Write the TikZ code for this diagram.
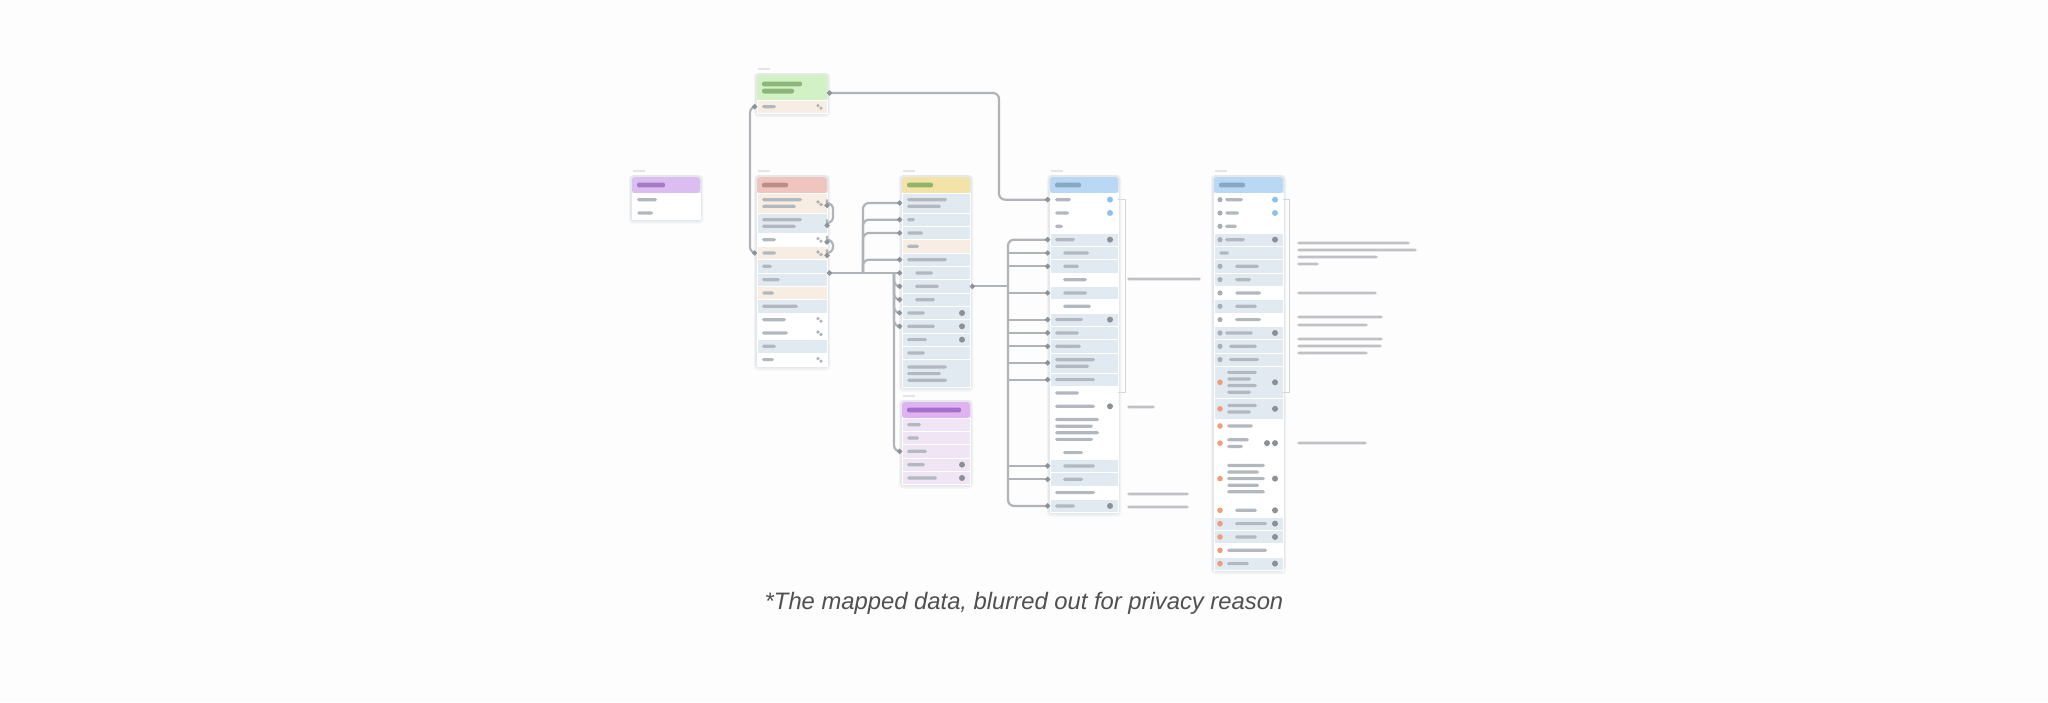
\documentclass[tikz,border=0pt]{standalone}
\usepackage{fontspec}
\newfontfamily\capfont{Liberation Sans}
\usetikzlibrary{calc,arrows.meta}
\pgfdeclarelayer{bgl}\pgfdeclarelayer{background}
\pgfsetlayers{bgl,background,main}
\definecolor{bgc}{HTML}{FDFDFD}
\definecolor{rb}{HTML}{E2EAF1}
\definecolor{rw}{HTML}{FFFFFF}
\definecolor{rp}{HTML}{F8EDE3}
\definecolor{rv}{HTML}{EFE5F4}
\definecolor{tb}{HTML}{B3B8BF}
\definecolor{cn}{HTML}{B0B4B9}
\definecolor{mk}{HTML}{8E9399}
\definecolor{bk}{HTML}{D3D7DB}
\definecolor{frm}{HTML}{E6E9EC}
\definecolor{shd}{HTML}{F2F3F4}
\definecolor{ic}{HTML}{8C9096}
\definecolor{bd}{HTML}{8EC2EE}
\definecolor{lk}{HTML}{AEB2B8}
\definecolor{li}{HTML}{A9AEB4}
\definecolor{orn}{HTML}{F29C7E}
\definecolor{an}{HTML}{BFC1C4}
\definecolor{lbl}{HTML}{E4E4E4}
\definecolor{capc}{HTML}{505050}
\definecolor{hpa}{HTML}{DBBDF1}\definecolor{tpa}{HTML}{A37CC4}
\definecolor{hg}{HTML}{D2F1C4}\definecolor{tg}{HTML}{8DB77A}
\definecolor{hr}{HTML}{F1C5BF}\definecolor{tr}{HTML}{B98F8A}
\definecolor{hy}{HTML}{F4E3A8}\definecolor{ty}{HTML}{8FB46A}
\definecolor{hq}{HTML}{DFB2F2}\definecolor{tq}{HTML}{A56FC9}
\definecolor{hb}{HTML}{B9D8F3}\definecolor{tbh}{HTML}{8AA7C2}
\tikzset{
  rowbox/.style={draw=white, line width=0.4pt, inner sep=0pt, outer sep=0pt, rectangle},
  hdrbox/.style={inner sep=0pt, outer sep=0pt, rectangle, rounded corners=1.5pt},
  conn/.style={draw=cn, line width=1.1pt, rounded corners=3pt},
  brk/.style={draw=bk, line width=0.5pt},
  mkA/.style={{Circle[length=2.4pt,color=mk]}-},
  mkB/.style={-{Circle[length=2.4pt,color=mk]}},
  mkAB/.style={{Circle[length=2.4pt,color=mk]}-{Circle[length=2.4pt,color=mk]}},
}
\newcount\rowcnt
\newcommand\tabhead[9]{%
  \xdef\Tname{#1}\xdef\Tx{#2}\xdef\Ttop{#3}\xdef\Tw{#4}%
  \global\rowcnt=0
  \node[hdrbox, fill=#6, minimum width=#4*0.5pt, minimum height=#5*0.5pt, anchor=north west] (#1-h) at (#2,#3) {};
  \fill[lbl] (#2+1,#3-7) rectangle ++(12,2.4);
  \foreach \k in {1,...,#9}{%
    \pgfmathsetmacro\yy{#3+#5/2-(#9-1)*3.6+(\k-1)*7.2}%
    \pgfmathsetmacro\ll{#8-(\k-1)*8}%
    \fill[#7, rounded corners=1pt] (#2+5,\yy-2.4) rectangle ++(\ll,4.8);
  }%
  \pgfmathsetmacro\ny{#3+#5}\xdef\Cury{\ny}%
}
\newcommand\trow[7]{%
  \global\advance\rowcnt by 1
  \edef\rn{\Tname-\the\rowcnt}%
  \node[rowbox, fill=#2, minimum width=\Tw*0.5pt, minimum height=#1*0.5pt, anchor=north west] (\rn) at (\Tx,\Cury) {};
  \pgfmathsetmacro\cy{\Cury+#1/2}%
  \foreach \k in {1,...,#5}{%
    \pgfmathsetmacro\yy{\cy-(#5-1)*3.3+(\k-1)*6.6}%
    \pgfmathsetmacro\ll{#4-mod(\k+1,2)*6}%
    \fill[tb, rounded corners=0.8pt] (\Tx+5+#3,\yy-1.6) rectangle ++(\ll,3.2);
  }%
  \ifcase#6\relax\or
    \fill[ic] (\Tx+\Tw-8,\cy) circle (1.5pt);
  \or
    \fill[bd] (\Tx+\Tw-8,\cy) circle (1.5pt);
  \or
    \fill[lk] (\Tx+\Tw-9,\cy-1) circle (0.9pt); \fill[lk] (\Tx+\Tw-6,\cy+1.5) circle (0.9pt);
  \or
    \fill[ic] (\Tx+\Tw-8,\cy) circle (1.5pt); \fill[ic] (\Tx+\Tw-16,\cy) circle (1.5pt);
  \fi
  \ifcase#7\relax\or
    \fill[li] (\Tx+6,\cy) circle (1.3pt);
  \or
    \fill[orn] (\Tx+6,\cy) circle (1.4pt);
  \fi
  \pgfmathsetmacro\ny{\Cury+#1}\xdef\Cury{\ny}%
}
\newcommand\tabend{%
  \begin{pgfonlayer}{background}
    \fill[shd, rounded corners=2pt] (\Tx-3,\Ttop-2) rectangle (\Tx+\Tw+3,\Cury+4);
    \fill[frm, rounded corners=2pt] (\Tx-2,\Ttop-2) rectangle (\Tx+\Tw+2,\Cury+2);
  \end{pgfonlayer}}
\newcommand\ann[3]{\fill[an, rounded corners=0.8pt] (#1,#2-1.3) rectangle ++(#3,2.6);}
\begin{document}
\begin{tikzpicture}[x=0.5pt,y=-0.5pt]
\begin{pgfonlayer}{bgl}\fill[bgc] (0,0) rectangle (2048,702);\end{pgfonlayer}
\useasboundingbox (0,0) rectangle (2048,702);
\def\s{13.33}
% purple table
\tabhead{pa}{632}{177}{68}{16}{hpa}{tpa}{28}{1}
\trow{\s}{rw}{0}{20}{1}{0}{0}
\trow{\s}{rw}{0}{16}{1}{0}{0}
\tabend
% green table
\tabhead{g}{757}{75}{70}{25}{hg}{tg}{40}{2}
\trow{\s}{rp}{0}{14}{1}{3}{0}
\tabend
% red table
\tabhead{r}{757}{177}{70}{16}{hr}{tr}{26}{1}
\trow{20}{rp}{0}{40}{2}{3}{0}
\trow{20}{rb}{0}{40}{2}{0}{0}
\trow{\s}{rw}{0}{14}{1}{3}{0}
\trow{\s}{rp}{0}{14}{1}{3}{0}
\trow{\s}{rb}{0}{10}{1}{0}{0}
\trow{\s}{rb}{0}{18}{1}{0}{0}
\trow{\s}{rp}{0}{12}{1}{0}{0}
\trow{\s}{rb}{0}{36}{1}{0}{0}
\trow{\s}{rw}{0}{24}{1}{3}{0}
\trow{\s}{rw}{0}{26}{1}{3}{0}
\trow{\s}{rb}{0}{14}{1}{0}{0}
\trow{\s}{rw}{0}{12}{1}{3}{0}
\tabend
% yellow table
\tabhead{y}{902}{177}{68}{16}{hy}{ty}{26}{1}
\trow{20}{rb}{0}{40}{2}{0}{0}
\trow{\s}{rb}{0}{8}{1}{0}{0}
\trow{\s}{rb}{0}{16}{1}{0}{0}
\trow{\s}{rp}{0}{12}{1}{0}{0}
\trow{\s}{rb}{0}{40}{1}{0}{0}
\trow{\s}{rb}{8}{18}{1}{0}{0}
\trow{\s}{rb}{8}{24}{1}{0}{0}
\trow{\s}{rb}{8}{20}{1}{0}{0}
\trow{\s}{rb}{0}{18}{1}{1}{0}
\trow{\s}{rb}{0}{28}{1}{1}{0}
\trow{\s}{rb}{0}{20}{1}{1}{0}
\trow{\s}{rb}{0}{18}{1}{0}{0}
\trow{28}{rb}{0}{40}{3}{0}{0}
\tabend
% purple table 2
\tabhead{q}{902}{402}{68}{16}{hq}{tq}{54}{1}
\trow{\s}{rv}{0}{14}{1}{0}{0}
\trow{\s}{rv}{0}{12}{1}{0}{0}
\trow{\s}{rv}{0}{20}{1}{0}{0}
\trow{\s}{rv}{0}{18}{1}{1}{0}
\trow{\s}{rv}{0}{30}{1}{1}{0}
\tabend
% blue table 1
\tabhead{b1}{1050}{177}{68}{16}{hb}{tbh}{26}{1}
\trow{\s}{rw}{0}{16}{1}{2}{0}
\trow{\s}{rw}{0}{14}{1}{2}{0}
\trow{\s}{rw}{0}{8}{1}{0}{0}
\trow{\s}{rb}{0}{20}{1}{1}{0}
\trow{\s}{rb}{8}{26}{1}{0}{0}
\trow{\s}{rb}{8}{16}{1}{0}{0}
\trow{\s}{rw}{8}{24}{1}{0}{0}
\trow{\s}{rb}{8}{24}{1}{0}{0}
\trow{\s}{rw}{8}{28}{1}{0}{0}
\trow{\s}{rb}{0}{28}{1}{1}{0}
\trow{\s}{rb}{0}{24}{1}{0}{0}
\trow{\s}{rb}{0}{26}{1}{0}{0}
\trow{20}{rb}{0}{40}{2}{0}{0}
\trow{\s}{rb}{0}{40}{1}{0}{0}
\trow{\s}{rw}{0}{24}{1}{0}{0}
\trow{\s}{rw}{0}{40}{1}{1}{0}
\trow{33}{rw}{0}{44}{4}{0}{0}
\trow{\s}{rw}{8}{20}{1}{0}{0}
\trow{\s}{rb}{8}{32}{1}{0}{0}
\trow{\s}{rb}{8}{20}{1}{0}{0}
\trow{\s}{rw}{0}{40}{1}{0}{0}
\trow{\s}{rb}{0}{20}{1}{1}{0}
\tabend
% blue table 2
\tabhead{b2}{1214}{177}{69}{16}{hb}{tbh}{26}{1}
\trow{\s}{rw}{6}{18}{1}{2}{1}
\trow{\s}{rw}{6}{14}{1}{2}{1}
\trow{\s}{rw}{6}{12}{1}{0}{1}
\trow{\s}{rb}{6}{20}{1}{1}{1}
\trow{\s}{rb}{0}{10}{1}{0}{0}
\trow{\s}{rb}{16}{24}{1}{0}{1}
\trow{\s}{rb}{16}{16}{1}{0}{1}
\trow{\s}{rw}{16}{26}{1}{0}{1}
\trow{\s}{rb}{16}{22}{1}{0}{1}
\trow{\s}{rw}{16}{26}{1}{0}{1}
\trow{\s}{rb}{6}{28}{1}{1}{1}
\trow{\s}{rb}{10}{28}{1}{0}{1}
\trow{\s}{rb}{10}{30}{1}{0}{1}
\trow{32}{rb}{8}{30}{4}{1}{2}
\trow{21}{rb}{8}{30}{2}{1}{2}
\trow{\s}{rw}{8}{26}{1}{0}{2}
\trow{21}{rw}{8}{22}{2}{4}{2}
\trow{50}{rw}{8}{38}{5}{1}{2}
\trow{\s}{rw}{16}{22}{1}{1}{2}
\trow{\s}{rb}{16}{32}{1}{1}{2}
\trow{\s}{rb}{16}{22}{1}{1}{2}
\trow{\s}{rw}{8}{40}{1}{0}{2}
\trow{\s}{rb}{8}{22}{1}{1}{2}
\tabend
% brackets
\draw[brk] (b1-1.east) -- ++(7,0) |- (b1-15.east);
\draw[brk] (b2-1.east) -- ++(6,0) |- ($(b2-14.south east)+(0,-6)$);
% annotations
\ann{1127}{279}{74}
\ann{1127}{407}{28}
\ann{1127}{494}{62}
\ann{1127}{507}{62}
\ann{1297}{243}{113}
\ann{1297}{250}{120}
\ann{1297}{257}{81}
\ann{1297}{264}{22}
\ann{1297}{293}{80}
\ann{1297}{317}{86}
\ann{1297}{325}{71}
\ann{1297}{339}{86}
\ann{1297}{346}{85}
\ann{1297}{353}{71}
\ann{1297}{443}{70}
% connectors
\coordinate (gout) at ($(g-h.south east)+(0,-7)$);
\draw[conn,mkAB] (gout) -| ($(b1-1.west)+(-51,0)$) -- (b1-1.west);
\draw[conn,mkAB] (g-1.west) -- ++(-7,0) |- (r-4.west);
\draw[conn,mkAB] (r-1.east) -- ++(6,0) |- (r-2.east);
\draw[conn,mkAB] (r-3.east) -- ++(6,0) |- (r-4.east);
\coordinate (bus1) at ($(y-6.west)+(-39,0)$);
\draw[conn,mkAB] (y-6.west -| r-5.east) -- (y-6.west);
\foreach \k in {1,2,3,5} \draw[conn,mkA] (y-\k.west) -| (bus1);
\coordinate (bus2) at ($(y-6.west)+(-8,0)$);
\foreach \k in {7,8,9,10} \draw[conn,mkB] (bus2) |- (y-\k.west);
\draw[conn,mkB] (bus2) |- (q-3.west);
\coordinate (bus3) at ($(b1-4.west)+(-42,0)$);
\draw[conn,mkAB] (b1-4.west) -| ($(b1-22.west)+(-42,0)$) -- (b1-22.west);
\foreach \k in {5,6,8,10,11,12,13,14,19,20} \draw[conn,mkA] (b1-\k.west) -- ++(-42,0);
\draw[conn,mkA] (y-7.east) -- (y-7.east -| bus3);
% caption
\node[font=\capfont\itshape\fontsize{11.9pt}{14pt}\selectfont, text=capc, inner sep=0pt] (cap) at (1024,603) {*The mapped data, blurred out for privacy reason};
\end{tikzpicture}
\end{document}
